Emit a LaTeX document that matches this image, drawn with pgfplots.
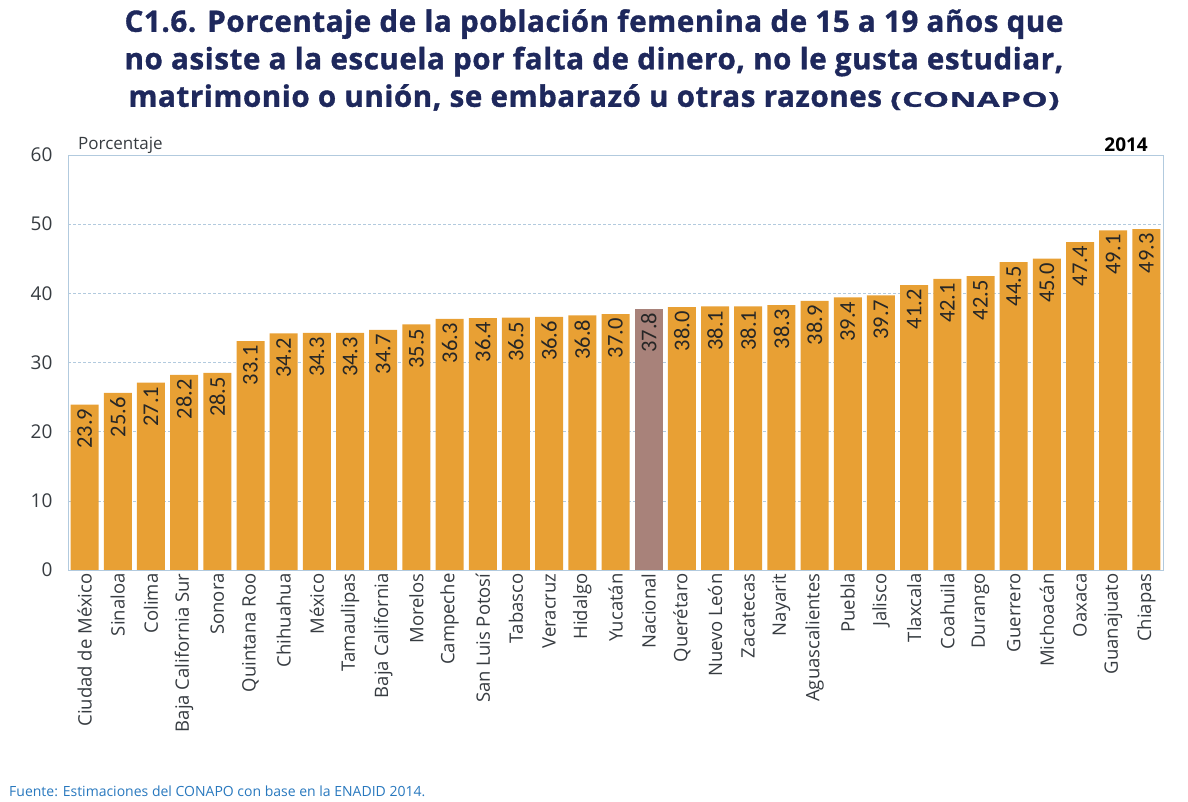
\documentclass[border=0pt]{standalone}
\usepackage{pgfplots}
\pgfplotsset{compat=1.18}
\usepackage{fontspec}
\setmainfont{Open Sans}
\newfontfamily\calib{Carlito}
\newfontfamily\titlefont[LetterSpace=2,FakeBold=1.2]{Open Sans}
\definecolor{barc}{RGB}{232,160,52}
\definecolor{nac}{RGB}{168,130,122}
\definecolor{titlec}{RGB}{30,40,92}
\definecolor{gridc}{RGB}{178,202,222}
\definecolor{tickc}{RGB}{55,60,65}
\definecolor{srcc}{RGB}{40,120,190}
\begin{document}
\begin{tikzpicture}
\useasboundingbox (0pt,0pt) rectangle (1188pt,802pt);
\node[align=center, font=\titlefont\fontsize{29.5}{37.5}\selectfont\bfseries, text=titlec, anchor=north, inner sep=0pt] at (594pt,793pt)
{C1.6. Porcentaje de la población femenina de 15 a 19 años que\\
no asiste a la escuela por falta de dinero, no le gusta estudiar,\\
matrimonio o unión, se embarazó u otras razones \scalebox{1.6}[1]{\fontsize{20.5}{37.5}\selectfont(CONAPO)}};
\begin{axis}[
  at={(68pt,232pt)}, anchor=south west,
  width=1095pt, height=415pt, scale only axis,
  xmin=-0.5, xmax=32.5, ymin=0, ymax=60,
  ytick={0,10,...,60},
  xtick={0,...,32},
  xticklabels={Ciudad de México,Sinaloa,Colima,Baja California Sur,Sonora,Quintana Roo,Chihuahua,México,Tamaulipas,Baja California,Morelos,Campeche,San Luis Potosí,Tabasco,Veracruz,Hidalgo,Yucatán,Nacional,Querétaro,Nuevo León,Zacatecas,Nayarit,Aguascalientes,Puebla,Jalisco,Tlaxcala,Coahuila,Durango,Guerrero,Michoacán,Oaxaca,Guanajuato,Chiapas},
  x tick label style={rotate=90, anchor=east, font=\fontsize{18.5}{20}\selectfont, text=tickc},
  y tick label style={font=\fontsize{19}{21}\selectfont, text=tickc, xshift=-12pt},
  /pgf/number format/assume math mode=true,
  major tick length=0pt,
  ymajorgrids, grid style={densely dashed, gridc},
  axis line style={gridc},
  ybar, bar width=28pt, bar shift=0pt,
  nodes near coords={\pgfmathprintnumber[fixed,fixed zerofill,precision=1]{\pgfplotspointmeta}},
  every node near coord/.append style={rotate=90, anchor=east, inner sep=4pt, font=\calib\fontsize{22.5}{24}\selectfont, text=black!85},
  clip=false,
]
\addplot[fill=barc, draw=none] coordinates {
(0,23.9) (1,25.6) (2,27.1) (3,28.2) (4,28.5) (5,33.1) (6,34.2) (7,34.3) (8,34.3) (9,34.7)
(10,35.5) (11,36.3) (12,36.4) (13,36.5) (14,36.6) (15,36.8) (16,37.0)
(18,38.0) (19,38.1) (20,38.1) (21,38.3) (22,38.9) (23,39.4) (24,39.7) (25,41.2)
(26,42.1) (27,42.5) (28,44.5) (29,45.0) (30,47.4) (31,49.1) (32,49.3)};
\addplot[fill=nac, draw=none] coordinates {(17,37.8)};
\node[anchor=south west, font=\fontsize{17}{19}\selectfont, text=tickc, inner sep=1pt] at (rel axis cs:0,1) [xshift=9pt] {Porcentaje};
\node[anchor=south east, font=\fontsize{19}{21}\selectfont\bfseries, text=black, inner sep=2pt] at (rel axis cs:1,1) [xshift=-13pt,yshift=1pt] {2014};
\end{axis}
\node[anchor=west, font=\fontsize{14}{16}\selectfont, text=srcc, inner sep=0pt] at (9pt,11pt) {Fuente: Estimaciones del CONAPO con base en la ENADID 2014.};
\end{tikzpicture}
\end{document}
